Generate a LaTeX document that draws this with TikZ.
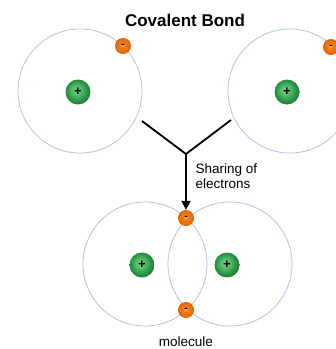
\documentclass[tikz,border=0pt]{standalone}
\usepackage{fontspec}
\setmainfont{Liberation Sans}
\usetikzlibrary{arrows.meta}
\definecolor{shellblue}{RGB}{176,196,226}
\definecolor{nucgreen}{RGB}{40,150,70}
\definecolor{nuclight}{RGB}{120,215,130}
\definecolor{elorange}{RGB}{232,110,10}
\definecolor{ellight}{RGB}{255,180,80}
\pgfdeclareradialshading{nucshade}{\pgfpoint{-4bp}{4bp}}{%
  color(0bp)=(nuclight); color(9bp)=(nuclight!60!nucgreen);
  color(20bp)=(nucgreen); color(25bp)=(nucgreen!85!black); color(50bp)=(nucgreen!85!black)}
\pgfdeclareradialshading{elshade}{\pgfpoint{-2bp}{3bp}}{%
  color(0bp)=(ellight); color(8bp)=(elorange!80!ellight);
  color(20bp)=(elorange); color(25bp)=(elorange!90!black); color(50bp)=(elorange!90!black)}
\tikzset{
  shell/.style={draw=shellblue, line width=0.8pt},
  nucleus/.style={circle, minimum size=25pt, inner sep=0pt,
    shading=nucshade, font=\bfseries\fontsize{13}{13}\selectfont},
  electron/.style={circle, minimum size=16pt, inner sep=0pt,
    shading=elshade, font=\bfseries\fontsize{10}{10}\selectfont},
  bondline/.style={line width=1.8pt, black},
  caption/.style={font=\fontsize{13.5}{15}\selectfont, align=left}
}
\begin{document}
\begin{tikzpicture}[x=1pt,y=-1pt]
\useasboundingbox (0,0) rectangle (336,349);
\fill[white] (0,0) rectangle (336,349);

% title
\node (title) at (185,20) {\bfseries\fontsize{17}{17}\selectfont Covalent Bond};

% separate atoms
\draw[shell] (80,91) circle (62);
\draw[shell] (290,91) circle (62);
\node[nucleus] (n1) at (78,92) {+};
\node[nucleus] (n2) at (287,92) {+};
\node[electron] (e1) at (123,46) {-};
\node[electron] (e2) at (331,47) {-};

% joining lines and arrow
\coordinate (jl) at (142,121);
\coordinate (jr) at (231,120);
\coordinate (j) at (186,154);
\draw[bondline, line join=miter] (jl) -- (j) -- (jr);

% molecule
\draw[shell] (145,264) circle (62);
\draw[shell] (230,264) circle (62);
\node[nucleus] (n3) at (142,265) {+};
\node[nucleus] (n4) at (227,265) {+};
\node[electron] (e3) at (186,218) {-};
\node[electron] (e4) at (186,310) {-};

\draw[bondline, -{Triangle[length=9pt,width=9pt]}] (j) -- (e3.north);

\node[caption, anchor=west] (share) at (192,176) {Sharing of\\electrons};
\node[caption, anchor=base] (mol) at (186,346) {molecule};
\end{tikzpicture}
\end{document}
